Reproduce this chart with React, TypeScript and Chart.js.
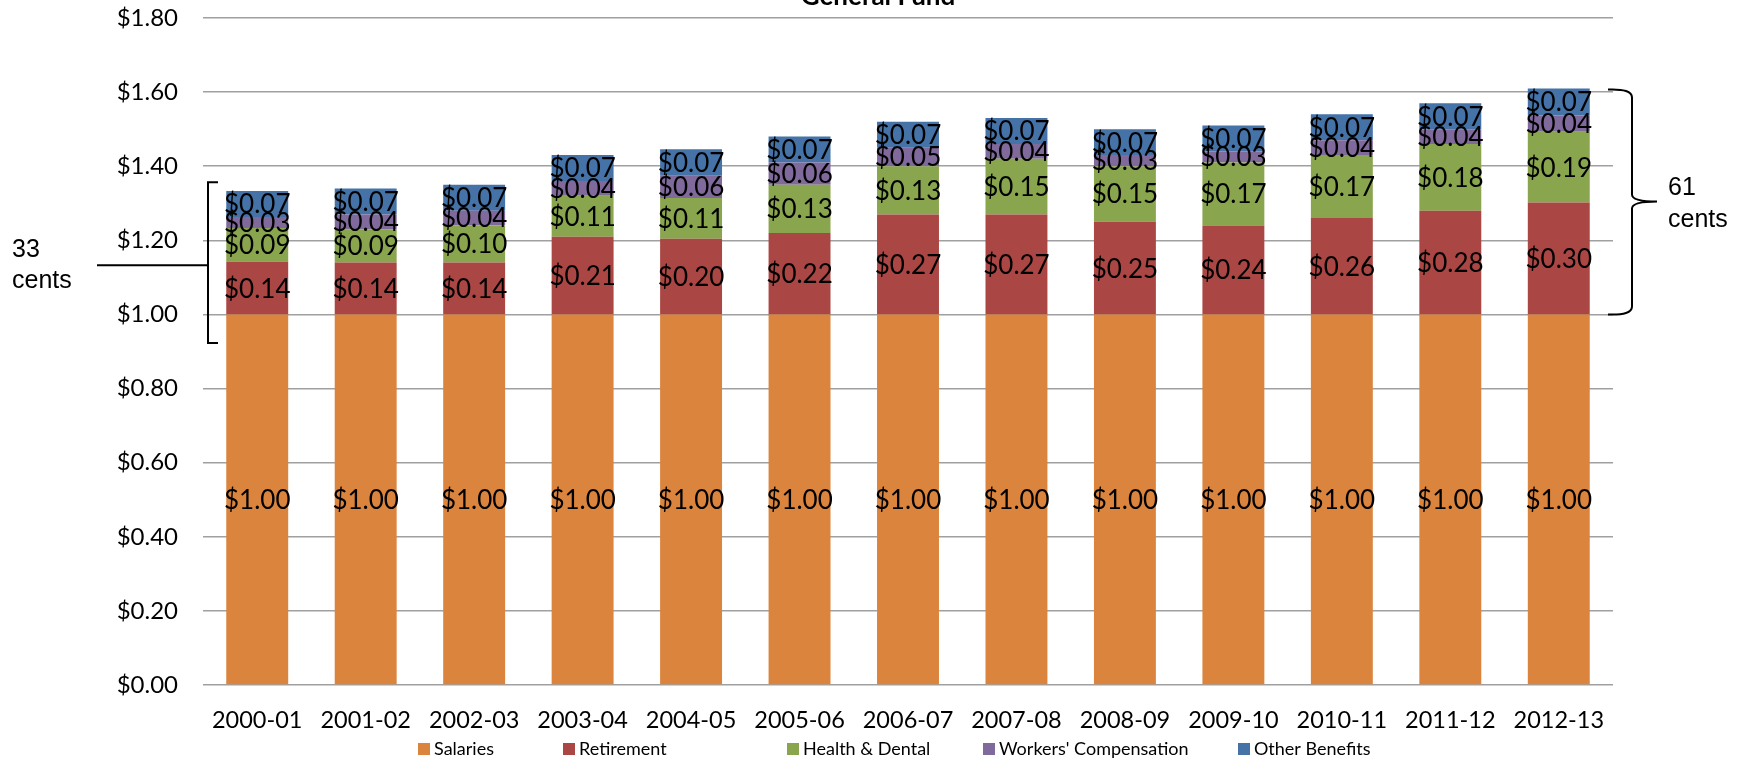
import React, { useEffect, useRef } from "react";
import { Chart, registerables } from "chart.js";

Chart.register(...registerables);

const CATEGORIES = [
  "2000-01", "2001-02", "2002-03", "2003-04", "2004-05", "2005-06", "2006-07",
  "2007-08", "2008-09", "2009-10", "2010-11", "2011-12", "2012-13",
];
const SALARIES = [1.0, 1.0, 1.0, 1.0, 1.0, 1.0, 1.0, 1.0, 1.0, 1.0, 1.0, 1.0, 1.0];
const RETIREMENT = [0.142, 0.14, 0.14, 0.21, 0.204, 0.22, 0.27, 0.27, 0.25, 0.24, 0.26, 0.28, 0.302];
const HEALTH_DENTAL = [0.091, 0.09, 0.1, 0.11, 0.11, 0.13, 0.13, 0.15, 0.15, 0.17, 0.17, 0.18, 0.191];
const WORKERS_COMP = [0.03, 0.04, 0.04, 0.04, 0.06, 0.06, 0.05, 0.04, 0.03, 0.03, 0.04, 0.04, 0.044];
const OTHER_BENEFITS = [0.07, 0.07, 0.07, 0.07, 0.072, 0.07, 0.07, 0.07, 0.07, 0.07, 0.07, 0.07, 0.073];
const SERIES_NAMES = ["Salaries", "Retirement", "Health & Dental", "Workers' Compensation", "Other Benefits"];
const SERIES_COLORS = ["#DB843D", "#AA4643", "#89A54E", "#80699B", "#4572A7"];
const Y_MIN = 0;
const Y_MAX = 1.8;
const Y_STEP = 0.2;
const TITLE = "General Fund";
const LEFT_NOTE = ["33", "cents"];
const RIGHT_NOTE = ["61", "cents"];

const W = 1746;
const H = 761;
const LEGEND_BOX_X = [418, 563, 787, 983, 1238];

export default function App() {
  const ref = useRef<HTMLCanvasElement>(null);

  useEffect(() => {
    const canvas = ref.current;
    if (!canvas) return;

    const dataLabels = {
      id: "dataLabels",
      afterDatasetsDraw(chart: any) {
        const ctx = chart.ctx;
        ctx.save();
        ctx.font = "26px Lato";
        ctx.fillStyle = "#000";
        ctx.textAlign = "center";
        ctx.textBaseline = "middle";
        chart.data.datasets.forEach((ds: any, di: number) => {
          const meta = chart.getDatasetMeta(di);
          meta.data.forEach((el: any, i: number) => {
            const v = ds.data[i] as number;
            const cy = (el.y + el.base) / 2;
            ctx.fillText("$" + v.toFixed(2), el.x, cy + 1);
          });
        });
        ctx.restore();
      },
    };

    const extras = {
      id: "extras",
      afterDraw(chart: any) {
        const ctx = chart.ctx;
        const ys = chart.scales.y;
        ctx.save();
        // Title (cut off at the top)
        ctx.font = "bold 26px Lato";
        ctx.fillStyle = "#000";
        ctx.textAlign = "center";
        ctx.textBaseline = "alphabetic";
        ctx.fillText(TITLE, 878, 5);

        // Legend
        ctx.font = "18px Lato";
        ctx.textAlign = "left";
        ctx.textBaseline = "middle";
        SERIES_NAMES.forEach((name, i) => {
          const bx = LEGEND_BOX_X[i];
          ctx.fillStyle = SERIES_COLORS[i];
          ctx.fillRect(bx, 743, 12, 12);
          ctx.fillStyle = "#000";
          ctx.fillText(name, bx + 16, 749);
        });

        // Left annotation
        ctx.strokeStyle = "#000";
        ctx.lineWidth = 2;
        const lTop = ys.getPixelForValue(1.357);
        const lBot = ys.getPixelForValue(0.923);
        const lMid = ys.getPixelForValue(1.133);
        ctx.beginPath();
        ctx.moveTo(218, lTop);
        ctx.lineTo(208, lTop);
        ctx.lineTo(208, lBot);
        ctx.lineTo(218, lBot);
        ctx.moveTo(97, lMid);
        ctx.lineTo(208, lMid);
        ctx.stroke();

        // Right annotation (curly brace)
        const rTop = ys.getPixelForValue(1.607);
        const rBot = ys.getPixelForValue(1.0);
        const rMid = ys.getPixelForValue(1.305);
        const vx = 1632;
        ctx.beginPath();
        ctx.moveTo(1608, rTop);
        ctx.quadraticCurveTo(vx, rTop - 1, vx, rTop + 8);
        ctx.lineTo(vx, rMid - 7);
        ctx.quadraticCurveTo(vx, rMid, 1657, rMid);
        ctx.moveTo(1657, rMid);
        ctx.quadraticCurveTo(vx, rMid, vx, rMid + 7);
        ctx.lineTo(vx, rBot - 8);
        ctx.quadraticCurveTo(vx, rBot + 1, 1608, rBot);
        ctx.stroke();

        ctx.font = "25px 'Liberation Sans'";
        ctx.fillStyle = "#000";
        ctx.textAlign = "left";
        ctx.textBaseline = "alphabetic";
        ctx.fillText(LEFT_NOTE[0], 12, 257);
        ctx.fillText(LEFT_NOTE[1], 12, 288);
        ctx.fillText(RIGHT_NOTE[0], 1668, 195);
        ctx.fillText(RIGHT_NOTE[1], 1668, 227);
        ctx.restore();
      },
    };

    const seriesData = [SALARIES, RETIREMENT, HEALTH_DENTAL, WORKERS_COMP, OTHER_BENEFITS];

    const chart = new Chart(canvas, {
      type: "bar",
      data: {
        labels: CATEGORIES,
        datasets: seriesData.map((d, i) => ({
          label: SERIES_NAMES[i],
          data: d,
          backgroundColor: SERIES_COLORS[i],
          borderWidth: 0,
          barPercentage: 0.571,
          categoryPercentage: 1,
        })),
      },
      options: {
        responsive: false,
        animation: false,
        events: [],
        layout: { padding: { left: 0, right: 133, top: 18, bottom: 0 } },
        plugins: {
          legend: { display: false },
          tooltip: { enabled: false },
          title: { display: false },
        },
        scales: {
          x: {
            stacked: true,
            grid: { display: false, drawTicks: false },
            border: { display: false },
            ticks: {
              color: "#000",
              font: { family: "Lato", size: 23.5 },
              padding: 21,
              maxRotation: 0,
              autoSkip: false,
            },
            afterFit: (scale: any) => {
              scale.height = 76;
              scale.paddingLeft = 0;
              scale.paddingRight = 0;
            },
          },
          y: {
            stacked: true,
            min: Y_MIN,
            max: Y_MAX,
            grid: { color: "#a0a0a0", lineWidth: 1.5, drawTicks: false },
            border: { display: false },
            ticks: {
              stepSize: Y_STEP,
              color: "#000",
              font: { family: "Lato", size: 24 },
              padding: 25,
              callback: (v: any) => "$" + Number(v).toFixed(2),
            },
            afterFit: (scale: any) => {
              scale.width = 203;
              scale.paddingTop = 0;
              scale.paddingBottom = 0;
            },
          },
        },
      },
      plugins: [dataLabels, extras],
    });

    return () => chart.destroy();
  }, []);

  return (
    <div style={{ position: "fixed", left: 0, top: 0, width: W, height: H, background: "#fff" }}>
      <canvas ref={ref} width={W} height={H} style={{ width: W, height: H, display: "block" }} />
    </div>
  );
}
